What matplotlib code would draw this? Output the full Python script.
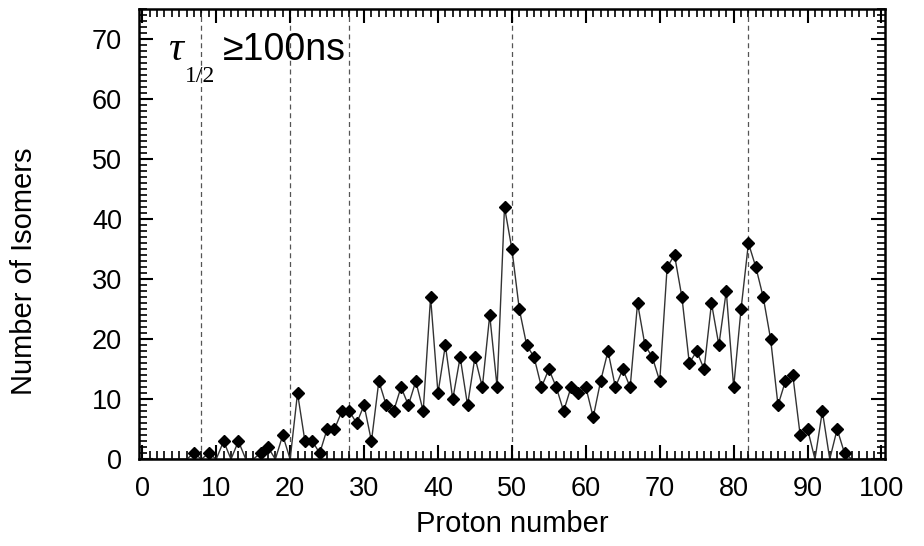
import matplotlib
matplotlib.use("Agg")
import matplotlib.pyplot as plt
import numpy as np
from matplotlib.ticker import MultipleLocator

plt.rcParams["font.family"] = ["Liberation Sans", "DejaVu Sans"]

# Number of isomers (T1/2 >= 100 ns) per proton number Z = 0..100
proton_number = np.arange(0, 101)
isomers = np.array([
    0, 0, 0, 0, 0, 0, 0, 1, 0, 1,      # 0-9
    0, 3, 0, 3, 0, 0, 1, 2, 0, 4,      # 10-19
    0, 11, 3, 3, 1, 5, 5, 8, 8, 6,     # 20-29
    9, 3, 13, 9, 8, 12, 9, 13, 8, 27,  # 30-39
    11, 19, 10, 17, 9, 17, 12, 24, 12, 42,  # 40-49
    35, 25, 19, 17, 12, 15, 12, 8, 12, 11,  # 50-59
    12, 7, 13, 18, 12, 15, 12, 26, 19, 17,  # 60-69
    13, 32, 34, 27, 16, 18, 15, 26, 19, 28,  # 70-79
    12, 25, 36, 32, 27, 20, 9, 13, 14, 4,   # 80-89
    5, 0, 8, 0, 5, 1, 0, 0, 0, 0,          # 90-99
    0,                                      # 100
])
magic_numbers = [8, 20, 28, 50, 82]

fig = plt.figure(figsize=(9.24, 5.46), dpi=100)
ax = fig.add_axes([0.150, 0.159, 0.808, 0.8245])

for z in magic_numbers:
    ax.axvline(z, color="#555555", linestyle=(0, (4, 3)), linewidth=0.9, zorder=1)

ax.plot(proton_number, isomers, color="#333333", linewidth=1.0, zorder=2)
nonzero = isomers > 0
ax.plot(proton_number[nonzero], isomers[nonzero], linestyle="none", marker="D",
        markersize=5.8, color="black", zorder=3)

ax.set_xlim(-0.5, 100.5)
ax.set_ylim(0, 75)
ax.xaxis.set_major_locator(MultipleLocator(10))
ax.xaxis.set_minor_locator(MultipleLocator(1))
ax.yaxis.set_major_locator(MultipleLocator(10))
ax.yaxis.set_minor_locator(MultipleLocator(1))
ax.tick_params(which="both", direction="in", top=True, right=True, color="black")
ax.tick_params(which="major", length=10, width=1.5, labelsize=19.5)
ax.tick_params(axis="x", which="major", pad=12)
ax.tick_params(axis="y", which="major", pad=12)
ax.tick_params(which="minor", length=5.5, width=1.2)
for spine in ax.spines.values():
    spine.set_linewidth(1.8)

ax.set_xlabel("Proton number", fontsize=21, labelpad=6)
ax.set_ylabel("Number of Isomers", fontsize=21)
ax.yaxis.set_label_coords(-0.135, 0.418)

fig.text(168 / 924, 1 - 60 / 546, "τ", fontsize=30, fontstyle="italic",
         family=["Liberation Serif", "DejaVu Serif"])
fig.text(185 / 924, 1 - 82 / 546, "1/2", fontsize=17,
         family=["Liberation Serif", "DejaVu Serif"])
fig.text(223 / 924, 1 - 60 / 546, "≥100ns", fontsize=27)

fig.savefig("out.png", dpi=100)
